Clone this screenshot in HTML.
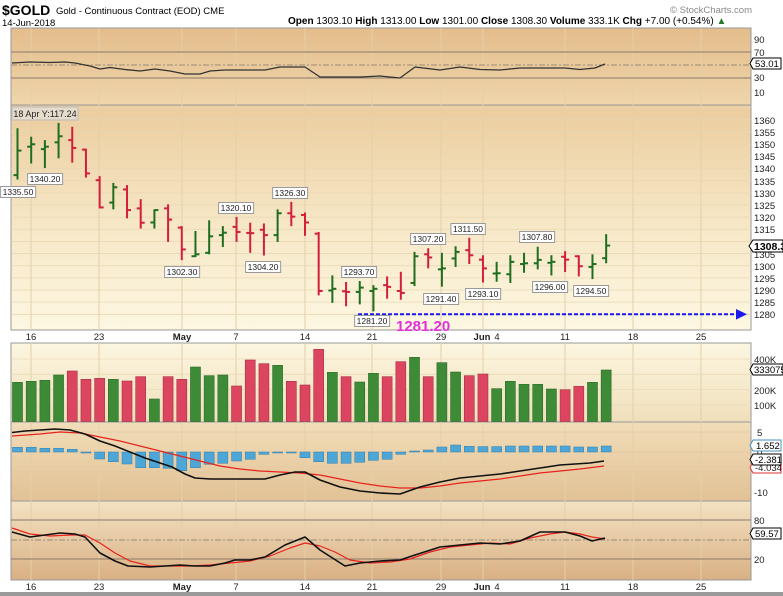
<!DOCTYPE html>
<html><head><meta charset="utf-8"><style>
body{margin:0;background:#fff;width:783px;height:596px;overflow:hidden;font-family:"Liberation Sans",sans-serif}
svg{display:block}
text{font-family:"Liberation Sans",sans-serif}
</style></head><body>
<svg id="c" width="783" height="596" xmlns="http://www.w3.org/2000/svg">
<defs>
<linearGradient id="gR" x1="0" y1="0" x2="0" y2="1"><stop offset="0" stop-color="#e4bd8b"/><stop offset="1" stop-color="#efd5ab"/></linearGradient>
<linearGradient id="gP" x1="0" y1="0" x2="0" y2="1"><stop offset="0" stop-color="#ebcc9d"/><stop offset="0.5" stop-color="#f6e6c4"/><stop offset="1" stop-color="#fdf7e2"/></linearGradient>
<linearGradient id="gV" x1="0" y1="0" x2="0" y2="1"><stop offset="0" stop-color="#fcf6e0"/><stop offset="1" stop-color="#f0dfbb"/></linearGradient>
<linearGradient id="gM" x1="0" y1="0" x2="0" y2="1"><stop offset="0" stop-color="#f1ddb9"/><stop offset="1" stop-color="#e2c195"/></linearGradient>
<linearGradient id="gS" x1="0" y1="0" x2="0" y2="1"><stop offset="0" stop-color="#f3e2c2"/><stop offset="1" stop-color="#d9b084"/></linearGradient>
</defs>
<rect x="11" y="28" width="740" height="77" fill="url(#gR)" stroke="#999"/>
<rect x="11" y="105" width="740" height="225" fill="url(#gP)" stroke="#999"/>
<rect x="11" y="343" width="740" height="79" fill="url(#gV)" stroke="#999"/>
<rect x="11" y="422" width="740" height="79" fill="url(#gM)" stroke="#999"/>
<rect x="11" y="501" width="740" height="79" fill="url(#gS)" stroke="#999"/>
<g id="grid"></g>
<g id="series"></g>
<!-- header -->
<text x="2" y="15" font-size="14" font-weight="bold" fill="#000">$GOLD</text>
<text x="56" y="14" font-size="9.5" fill="#000">Gold - Continuous Contract (EOD)  CME</text>
<text x="2" y="26" font-size="9.5" fill="#000">14-Jun-2018</text>
<text x="752" y="13" font-size="9.5" fill="#888" text-anchor="end">© StockCharts.com</text>
<text x="288" y="24" font-size="10" fill="#000"><tspan font-weight="bold">Open</tspan> 1303.10 <tspan font-weight="bold">High</tspan> 1313.00 <tspan font-weight="bold">Low</tspan> 1301.00 <tspan font-weight="bold">Close</tspan> 1308.30 <tspan font-weight="bold">Volume</tspan> 333.1K <tspan font-weight="bold">Chg</tspan> +7.00 (+0.54%) <tspan fill="#2a7a2a">▲</tspan></text>
<!-- right axis labels -->
<g font-size="9.5" fill="#222">
<text x="754" y="43">90</text><text x="754" y="56">70</text><text x="754" y="81">30</text><text x="754" y="96">10</text>
<text x="754" y="124">1360</text><text x="754" y="136">1355</text><text x="754" y="148">1350</text><text x="754" y="160">1345</text><text x="754" y="172">1340</text><text x="754" y="185">1335</text><text x="754" y="197">1330</text><text x="754" y="209">1325</text><text x="754" y="221">1320</text><text x="754" y="233">1315</text><text x="754" y="270">1300</text><text x="754" y="282">1295</text><text x="754" y="294">1290</text><text x="754" y="306">1285</text><text x="754" y="318">1280</text>
<text x="754" y="258">1305</text>
<text x="754" y="363">400K</text><text x="754" y="394">200K</text><text x="754" y="409">100K</text>
<text x="757" y="436">5</text><text x="757" y="456">0</text><text x="754" y="496">-10</text>
<text x="754" y="524">80</text><text x="754" y="563">20</text>
</g>
<!-- right value tags -->
<g font-size="9.5">
<path d="M753 58 h28 v11 h-28 l-3 -5.5z" fill="#fff" stroke="#000"/><text x="755" y="67">53.01</text>
<path d="M753 240 h30 v12 h-30 l-4 -6z" fill="#fff" stroke="#000"/><text x="754" y="250" font-weight="bold" font-size="10.5">1308.3</text>
<path d="M753 364 h30 v11 h-30 l-3 -5.5z" fill="#fff" stroke="#000"/><text x="754" y="373">333075</text>
<path d="M753 440 h28 v11 h-28 l-3 -5.5z" fill="#fff" stroke="#4a8fc0"/><text x="756" y="449">1.652</text>
<path d="M753 462 h28 v11 h-28 l-3 -5.5z" fill="#fff" stroke="#d33"/><text x="755" y="471" fill="#222">-4.034</text>
<path d="M753 454 h28 v11 h-28 l-3 -5.5z" fill="#fff" stroke="#000"/><text x="755" y="463">-2.381</text>
<path d="M753 528 h28 v11 h-28 l-3 -5.5z" fill="#fff" stroke="#000"/><text x="755" y="537">59.57</text>
</g>
<!-- date labels -->
<g font-size="9.5" fill="#222" text-anchor="middle">
<text x="31" y="340">16</text><text x="99" y="340">23</text><text x="182" y="340" font-weight="bold">May</text><text x="236" y="340">7</text><text x="305" y="340">14</text><text x="372" y="340">21</text><text x="441" y="340">29</text><text x="482" y="340" font-weight="bold">Jun</text><text x="497" y="340">4</text><text x="565" y="340">11</text><text x="633" y="340">18</text><text x="701" y="340">25</text>
<text x="31" y="590">16</text><text x="99" y="590">23</text><text x="182" y="590" font-weight="bold">May</text><text x="236" y="590">7</text><text x="305" y="590">14</text><text x="372" y="590">21</text><text x="441" y="590">29</text><text x="482" y="590" font-weight="bold">Jun</text><text x="497" y="590">4</text><text x="565" y="590">11</text><text x="633" y="590">18</text><text x="701" y="590">25</text>
</g>
<rect x="0" y="592" width="783" height="4" fill="#9a9a9a"/>
<!-- price annotations -->
<g id="ann" font-size="8.5" text-anchor="middle" fill="#222">
<rect x="12" y="107" width="66" height="13" fill="#e6dccb" stroke="#bbb"/><text x="45" y="117" font-size="9">18 Apr Y:117.24</text>
<text x="18" y="195">1335.50</text>
<text x="45" y="182">1340.20</text>
<text x="182" y="275">1302.30</text>
<text x="236" y="211">1320.10</text>
<text x="263" y="270">1304.20</text>
<text x="290" y="196">1326.30</text>
<text x="359" y="275">1293.70</text>
<text x="372" y="324">1281.20</text>
<text x="428" y="242">1307.20</text>
<text x="468" y="232">1311.50</text>
<text x="441" y="302">1291.40</text>
<text x="483" y="297">1293.10</text>
<text x="537" y="240">1307.80</text>
<text x="550" y="290">1296.00</text>
<text x="591" y="294">1294.50</text>
</g>
<text x="396" y="331" font-size="15" font-weight="bold" fill="#e030d8">1281.20</text>
</svg>
<script>
const NS="http://www.w3.org/2000/svg";
const G=document.getElementById('grid'),S=document.getElementById('series'),A=document.getElementById('ann');
function el(p,t,a){const e=document.createElementNS(NS,t);for(const k in a)e.setAttribute(k,a[k]);p.appendChild(e);return e;}
const X=i=>17.5+13.69*i;
const Y=p=>314.3-(p-1280)*2.429;
// grid
[31,99,182,236,305,372,441,483,565,633,701].forEach(x=>{
 [[28,105],[105,330],[343,580]].forEach(r=>el(G,'line',{x1:x,x2:x,y1:r[0],y2:r[1],stroke:'#e3cfa8','stroke-width':1}));
});
for(let p=1280;p<=1365;p+=5)el(G,'line',{x1:11,x2:751,y1:Y(p),y2:Y(p),stroke:'#e8d7b4','stroke-width':0.8});
for(let v=0;v<=4;v++){let y=420.3-v*15.33;el(G,'line',{x1:11,x2:751,y1:y,y2:y,stroke:'#eadbb8','stroke-width':0.8});}
[432,452,472,492].forEach(y=>el(G,'line',{x1:11,x2:751,y1:y,y2:y,stroke:'#e0c79e','stroke-width':0.8}));
el(G,'line',{x1:11,x2:751,y1:52,y2:52,stroke:'#8a7a6a','stroke-width':1});
el(G,'line',{x1:11,x2:751,y1:78,y2:78,stroke:'#8a7a6a','stroke-width':1});
el(G,'line',{x1:11,x2:751,y1:65,y2:65,stroke:'#9a8a7a','stroke-width':1,'stroke-dasharray':'6,2,2,2'});
el(G,'line',{x1:11,x2:751,y1:520,y2:520,stroke:'#8a7a6a','stroke-width':1});
el(G,'line',{x1:11,x2:751,y1:559,y2:559,stroke:'#8a7a6a','stroke-width':1});
el(G,'line',{x1:11,x2:751,y1:540,y2:540,stroke:'#9a8a7a','stroke-width':1,'stroke-dasharray':'6,2,2,2'});
// OHLC
const D=[[1337.3,1356.6,1335.5,1347.4],[1349,1353.1,1342.1,1350],[1348,1351.7,1340.2,1349],[1350.8,1358.8,1344.2,1353.3],[1351.7,1357.2,1342.4,1348.5],[1347.8,1348.2,1336.3,1338],[1335.2,1336.9,1323.6,1324],[1326,1334.1,1323.2,1332.3],[1331.4,1333.2,1319.5,1322.9],[1323.6,1327.4,1315.3,1317.7],[1317.8,1323.2,1315.3,1322.9],[1323.6,1325.3,1309.8,1319],[1315.7,1316.3,1302.3,1306.7],[1303.9,1314.3,1303.6,1304.7],[1305.3,1318.7,1304.7,1312.1],[1312.6,1316.3,1307.7,1313.6],[1316,1320.1,1309.8,1313.9],[1313.5,1317.7,1305.3,1313.4],[1314.8,1317.4,1304.2,1312.6],[1312.6,1323.2,1309.8,1321.6],[1321.6,1326.3,1316.3,1320.2],[1320.9,1321.9,1312.3,1317.8],[1313.2,1313.9,1287.8,1289.6],[1289.8,1296,1284.7,1290.5],[1289.5,1293.3,1283.3,1289.2],[1289.2,1293.7,1284.1,1291],[1289.6,1292,1281.2,1290.5],[1292,1295.6,1286.4,1291.3],[1289.6,1297.5,1286,1288.8],[1292.9,1305.7,1291.6,1303.9],[1304.7,1307.2,1298.9,1303.4],[1298.5,1305.3,1291.4,1298.9],[1303,1308,1299.5,1305.7],[1306.4,1311.5,1300.7,1304.3],[1302.5,1304.3,1293.1,1298.9],[1296.8,1301.6,1293.4,1296.9],[1296.5,1304.3,1292.9,1301.6],[1300.7,1305.3,1297.1,1301],[1301,1307.8,1298.5,1302.4],[1301.2,1304.3,1296,1301.6],[1303.7,1306,1297.4,1302.5],[1303.9,1304.3,1295.6,1299.8],[1299.5,1304.7,1294.5,1300.7],[1303.1,1313,1301,1308.3]];
const red=[4,5,6,8,9,11,12,16,17,18,20,21,22,24,27,28,30,33,34,40,41];
const VT=[142,139,136,120,108,133,130,133,138,125,192,125,133,96,122,120,153,75,86,91,139,150,43,112,125,141,115,125,80,67,125,83,111,122,117,161,139,148,148,162,164,154,142,105];
D.forEach((d,i)=>{const x=X(i);const r=red.includes(i);const c=r?'#d21f3c':'#1f6e1f';
 el(S,'line',{x1:x,x2:x,y1:Y(d[1]),y2:Y(d[2]),stroke:c,'stroke-width':2});
 el(S,'line',{x1:x-4,x2:x,y1:Y(d[0]),y2:Y(d[0]),stroke:c,'stroke-width':2});
 el(S,'line',{x1:x,x2:x+4,y1:Y(d[3]),y2:Y(d[3]),stroke:c,'stroke-width':2});
 const top=VT[i]/3+335;
 el(S,'rect',{x:x-5,y:top,width:10,height:421.5-top,fill:r?'#dc4560':'#3d8b37',stroke:r?'#a83045':'#2c6a28','stroke-width':0.6});
});
// blue dashed support
el(S,'line',{x1:358,x2:738,y1:314.3,y2:314.3,stroke:'#1a1aee','stroke-width':2,'stroke-dasharray':'4,2'});
el(S,'path',{d:'M736 309 L747 314.3 L736 319.6 Z',fill:'#1a1aee'});
// MACD histogram
const H=[447.3,447.3,448.3,448.3,449.3,453,459,461.7,464,467.7,467.7,468.3,470.7,467.7,464.3,463.3,461,459.3,454.3,453,453,457.7,461.7,463.3,463.3,462.3,460.3,459.3,454.3,451,450,447,445,446.3,446.6,446.6,446,446,446,446,446,447,447,446];
H.forEach((h,i)=>{const x=X(i);const y0=Math.min(h,452),y1=Math.max(h,452);
 el(S,'rect',{x:x-5,y:y0,width:10,height:Math.max(y1-y0,1),fill:'#4ea6d6',stroke:'#2f7fb0','stroke-width':0.5});});
function poly(pts,c,w){el(S,'polyline',{points:pts.map(p=>p.join(',')).join(' '),fill:'none',stroke:c,'stroke-width':w,'stroke-linejoin':'round'});}
poly([[12,436],[40,434],[60,432],[80,433],[100,437],[120,441],[140,446],[160,451],[180,456],[200,461],[220,466],[240,469],[260,471],[280,472],[300,473],[320,475],[340,479],[360,483],[380,486],[400,488],[420,488],[440,486],[460,483],[480,481],[500,479],[520,476],[540,473],[560,471],[580,469],[604,466]],'#e8231e',1.2);
poly([[12,432.5],[25,431],[40,430],[55,429],[70,430],[85,434],[100,441],[115,446],[130,452],[145,458],[160,463],[172,467],[185,474],[195,478],[210,479],[240,479],[265,479],[280,475],[295,472],[305,472],[320,480],[340,487],[360,491],[380,493],[400,494],[420,487],[440,482],[460,478],[480,476],[500,474],[520,471],[540,468],[560,465],[575,464],[590,463],[604,461]],'#111',1.6);
// Stoch
poly([[12,528],[30,534],[50,536],[70,535],[85,535],[100,543],[115,553],[130,561],[150,566],[190,566],[210,565],[230,563],[250,561],[270,556],[290,548],[305,543],[320,546],[335,552],[350,560],[370,563],[390,562],[410,559],[430,552],[450,547],[470,545],[490,543],[510,544],[530,538],[550,534],[565,532],[580,534],[592,537],[605,539]],'#e8231e',1.2);
poly([[12,532],[30,537],[45,535],[60,533],[75,534],[85,537],[100,553],[115,561],[128,566],[150,567],[165,566],[180,565],[195,566],[210,566],[225,563],[235,560],[250,560],[265,557],[285,545],[305,537],[320,550],[345,566],[360,563],[380,561],[400,560],[415,555],[440,547],[460,545],[480,543],[500,544],[520,541],[540,532],[565,532],[580,536],[592,541],[605,538]],'#111',1.6);
// RSI
poly([[12,63],[30,62],[50,62.5],[65,62],[75,63],[90,66],[100,69],[110,67.5],[125,69.5],[140,71],[155,69],[170,71],[185,74],[200,74],[210,71],[225,70],[265,70],[280,67],[305,67],[320,77],[360,77],[380,76],[400,78],[415,67],[440,70],[460,67],[480,69.5],[500,70],[520,68],[565,68],[580,69.5],[595,68],[605,64]],'#333',1.3);
// annotation boxes
[...A.querySelectorAll('text')].slice(1).forEach(t=>{const b=t.getBBox();const r=document.createElementNS(NS,'rect');
 r.setAttribute('x',b.x-2);r.setAttribute('y',b.y-0.5);r.setAttribute('width',b.width+4);r.setAttribute('height',b.height+1);
 r.setAttribute('fill','#fff');r.setAttribute('stroke','#999');A.insertBefore(r,t);});
</script>
</body></html>
